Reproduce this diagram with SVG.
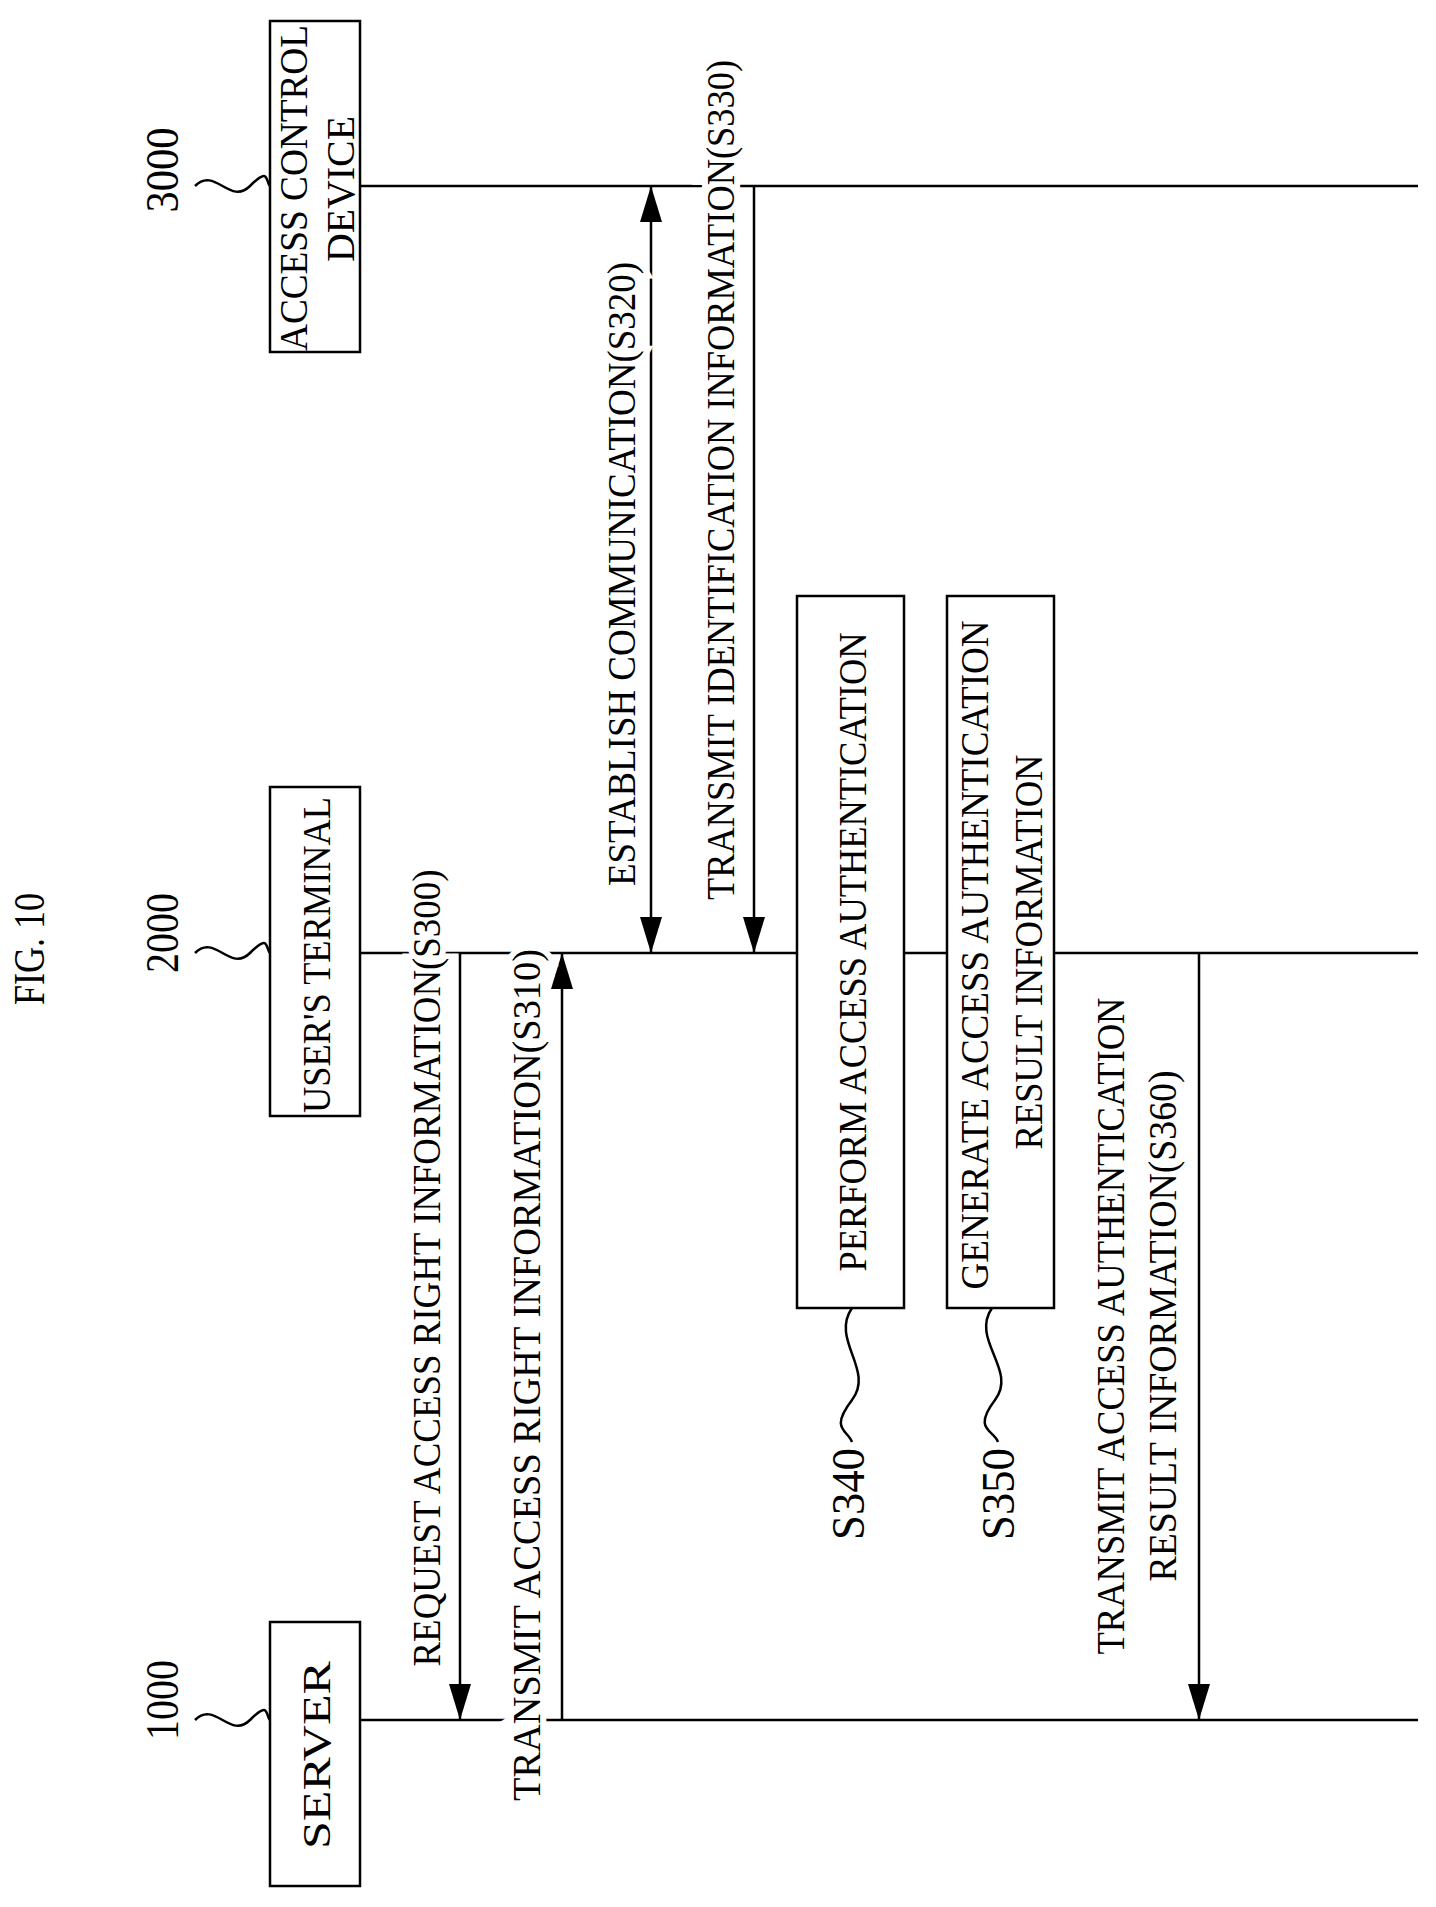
<svg xmlns="http://www.w3.org/2000/svg" width="1436" height="1907" viewBox="0 0 1436 1907">
<style>
.t{font-family:"Liberation Serif","Times New Roman",serif;font-size:40px;fill:#000;text-anchor:middle;dominant-baseline:central}
.h{paint-order:stroke;stroke:#fff;stroke-width:12px}
.n{font-size:46px}
.ln{stroke:#000;stroke-width:2.5;fill:none}
.bx{stroke:#000;stroke-width:2.5;fill:#fff}
</style>
<defs>
<marker id="b" markerUnits="userSpaceOnUse" markerWidth="36" markerHeight="22" refX="36" refY="11" orient="auto-start-reverse" viewBox="0 0 36 22">
<path d="M0,0 L36,11 L0,22 Z" fill="#000"/>
</marker>
</defs>
<text class="t" transform="translate(29,949) rotate(-90)" textLength="112" lengthAdjust="spacingAndGlyphs" style="font-size:44px">FIG. 10</text>
<g id="lifelines">
<line class="ln" x1="360" y1="186" x2="1418" y2="186"/>
<line class="ln" x1="360" y1="953" x2="1418" y2="953"/>
<line class="ln" x1="360" y1="1720" x2="1418" y2="1720"/>
</g>
<g id="connectors">
<line class="ln" x1="460" y1="953" x2="460" y2="1720" marker-end="url(#b)"/>
<line class="ln" x1="562" y1="1720" x2="562" y2="953" marker-end="url(#b)"/>
<line class="ln" x1="651" y1="186" x2="651" y2="953" marker-start="url(#b)" marker-end="url(#b)"/>
<line class="ln" x1="754" y1="186" x2="754" y2="953" marker-end="url(#b)"/>
<line class="ln" x1="1199" y1="953" x2="1199" y2="1720" marker-end="url(#b)"/>
</g>
<g id="server">
<rect class="bx" x="270" y="1622" width="90" height="264"/>
<text class="t" transform="translate(316,1755) rotate(-90)" textLength="188" lengthAdjust="spacingAndGlyphs">SERVER</text>
<text class="t n" transform="translate(162,1700) rotate(-90)" textLength="80" lengthAdjust="spacingAndGlyphs">1000</text>
<path class="ln" stroke-width="1.5" d="M195,1720 C215,1700 230,1740 250,1720 S265,1715 270,1720"/>
</g>
<g id="terminal">
<rect class="bx" x="270" y="787" width="90" height="329"/>
<text class="t" transform="translate(316,955) rotate(-90)" textLength="316" lengthAdjust="spacingAndGlyphs">USER'S TERMINAL</text>
<text class="t n" transform="translate(162,933) rotate(-90)" textLength="80" lengthAdjust="spacingAndGlyphs">2000</text>
<path class="ln" stroke-width="1.5" d="M195,953 C215,933 230,973 250,953 S265,948 270,953"/>
</g>
<g id="acd">
<rect class="bx" x="270" y="21" width="90" height="331"/>
<text class="t" transform="translate(293,188) rotate(-90)" textLength="326" lengthAdjust="spacingAndGlyphs">ACCESS CONTROL</text>
<text class="t" transform="translate(340,189) rotate(-90)" textLength="146" lengthAdjust="spacingAndGlyphs">DEVICE</text>
<text class="t n" transform="translate(162,170) rotate(-90)" textLength="85" lengthAdjust="spacingAndGlyphs">3000</text>
<path class="ln" stroke-width="1.5" d="M195,186 C215,166 230,206 250,186 S265,181 270,186"/>
</g>
<g id="labels">
<text class="t h" transform="translate(426,1268) rotate(-90)" textLength="797" lengthAdjust="spacingAndGlyphs">REQUEST ACCESS RIGHT INFORMATION(S300)</text>
<text class="t h" transform="translate(526,1375) rotate(-90)" textLength="852" lengthAdjust="spacingAndGlyphs">TRANSMIT ACCESS RIGHT INFORMATION(S310)</text>
<text class="t h" transform="translate(621,574) rotate(-90)" textLength="624" lengthAdjust="spacingAndGlyphs">ESTABLISH COMMUNICATION(S320)</text>
<text class="t h" transform="translate(720,480) rotate(-90)" textLength="840" lengthAdjust="spacingAndGlyphs">TRANSMIT IDENTIFICATION INFORMATION(S330)</text>
<text class="t h" transform="translate(1110,1326) rotate(-90)" textLength="657" lengthAdjust="spacingAndGlyphs">TRANSMIT ACCESS AUTHENTICATION</text>
<text class="t h" transform="translate(1162,1326) rotate(-90)" textLength="511" lengthAdjust="spacingAndGlyphs">RESULT INFORMATION(S360)</text>
</g>
<g id="s340">
<rect class="bx" x="797" y="596" width="107" height="712"/>
<text class="t" transform="translate(852,952) rotate(-90)" textLength="639" lengthAdjust="spacingAndGlyphs">PERFORM ACCESS AUTHENTICATION</text>
<path class="ln" stroke-width="1.5" d="M852,1308 C830,1340 875,1370 852,1400 S848,1430 852,1442"/>
<text class="t n" transform="translate(848,1494) rotate(-90)" textLength="92" lengthAdjust="spacingAndGlyphs">S340</text>
</g>
<g id="s350">
<rect class="bx" x="947" y="596" width="107" height="712"/>
<text class="t" transform="translate(974,955) rotate(-90)" textLength="669" lengthAdjust="spacingAndGlyphs">GENERATE ACCESS AUTHENTICATION</text>
<text class="t" transform="translate(1028,952) rotate(-90)" textLength="395" lengthAdjust="spacingAndGlyphs">RESULT INFORMATION</text>
<path class="ln" stroke-width="1.5" d="M992,1308 C970,1340 1018,1370 995,1400 S994,1430 998,1442"/>
<text class="t n" transform="translate(998,1494) rotate(-90)" textLength="92" lengthAdjust="spacingAndGlyphs">S350</text>
</g>
</svg>
